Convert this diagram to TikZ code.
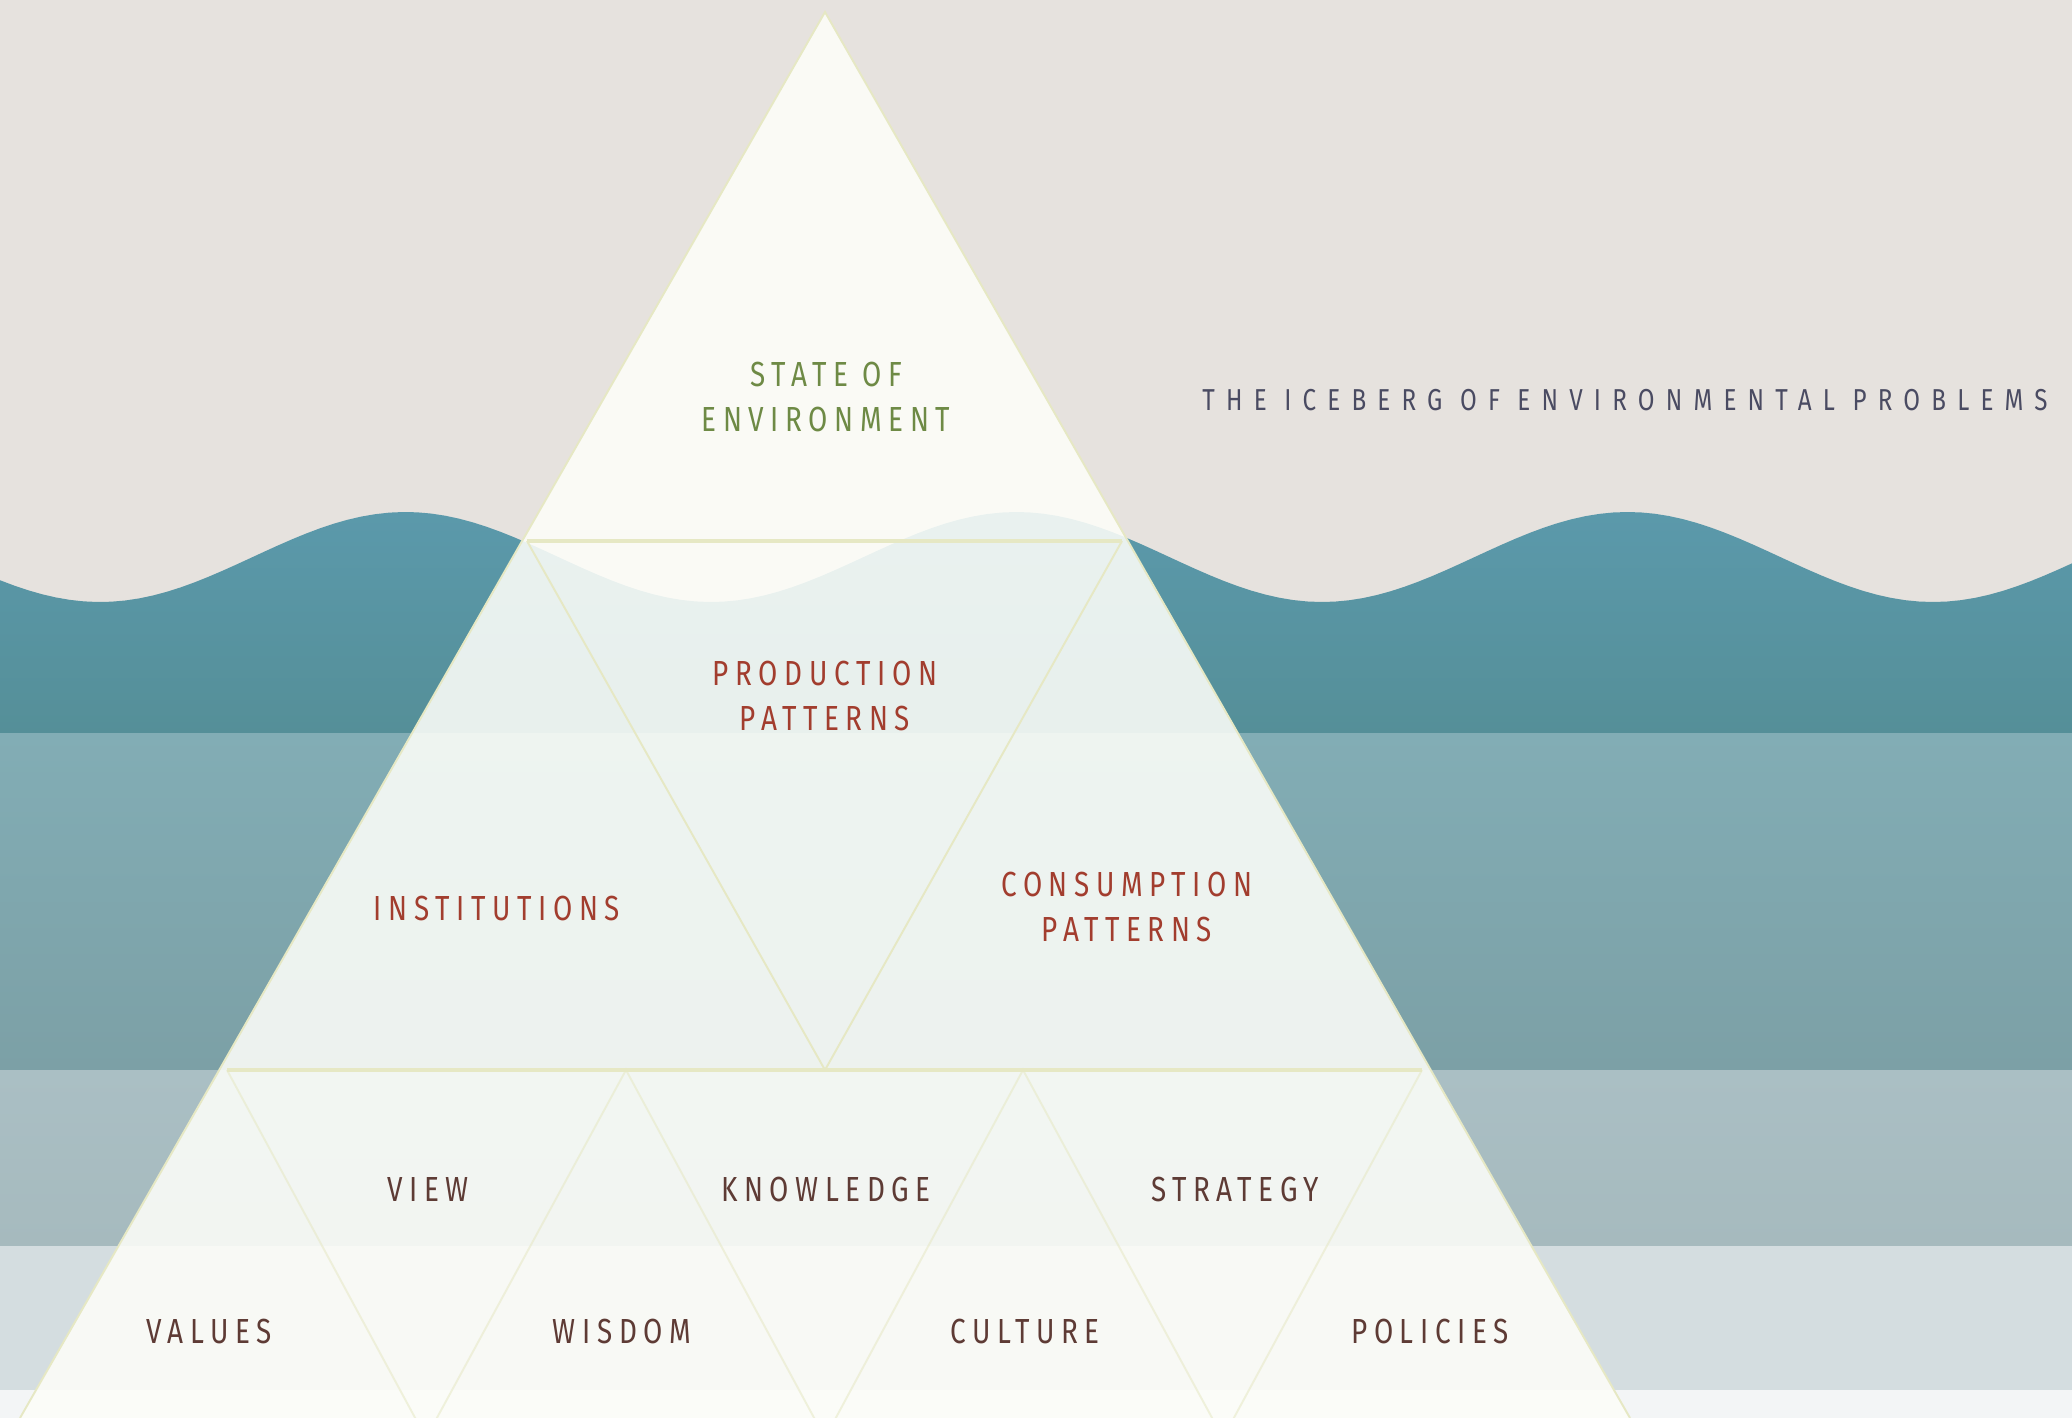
\documentclass[tikz,border=0pt]{standalone}
\usepackage{fontspec}
\usepackage{tikz}
\newfontfamily\icefont[LetterSpace=19,FakeStretch=0.8]{Fira Sans}
\newfontfamily\titlefont[LetterSpace=37,FakeStretch=0.8]{Fira Sans}
\definecolor{sky}{HTML}{E6E2DE}
\definecolor{seaA}{HTML}{5B99AB}
\definecolor{seaB}{HTML}{558F98}
\definecolor{seaC}{HTML}{82ADB5}
\definecolor{seaD}{HTML}{7CA0A6}
\definecolor{seaE}{HTML}{AABFC4}
\definecolor{seaF}{HTML}{A6BABE}
\definecolor{seaG}{HTML}{D4DDE0}
\definecolor{seaH}{HTML}{F3F5F6}
\definecolor{ice}{HTML}{FDFEF9}
\definecolor{iceline}{HTML}{E6E8C4}
\definecolor{moss}{HTML}{6E8A45}
\definecolor{rust}{HTML}{A23D2E}
\definecolor{umber}{HTML}{5E3B35}
\definecolor{slate}{HTML}{4A4B62}

\begin{document}
\begin{tikzpicture}[x=0.01cm,y=-0.01cm]
	\tikzset{word/.style={font=\icefont\fontsize{9.9}{12.7}\selectfont,align=center,inner sep=0pt}}
	\tikzset{edge/.style={draw=iceline,line width=0.55pt}}
	\tikzset{rowline/.style={draw=iceline,line width=0.9pt}}
	\useasboundingbox (0,0) rectangle (2072,1418);

	%% Sky and sea
	\fill[sky] (0,0) rectangle (2072,1418);
	\shade[top color=seaA,bottom color=seaB]
		plot[domain=0:2072,samples=150] (\x,{557+45*cos(0.5892*(\x-100))})
		-- (2072,733) -- (0,733) -- cycle;
	\shade[top color=seaC,bottom color=seaD] (0,733) rectangle (2072,1070);
	\shade[top color=seaE,bottom color=seaF] (0,1070) rectangle (2072,1246);
	\fill[seaG] (0,1246) rectangle (2072,1390);
	\fill[seaH] (0,1390) rectangle (2072,1418);

	%% Iceberg
	\coordinate (apex) at (825,12);
	\coordinate (bl) at (20,1418);
	\coordinate (br) at (1630,1418);
	\coordinate (l1) at (527,541);
	\coordinate (r1) at (1122,541);
	\coordinate (m2) at (825,1070);
	\coordinate (l2) at (227,1070);
	\coordinate (b1) at (626,1070);
	\coordinate (b2) at (1023,1070);
	\coordinate (r2) at (1422,1070);
	\coordinate (d1) at (426,1438);
	\coordinate (d2) at (825,1438);
	\coordinate (d3) at (1223,1438);
	\fill[ice,fill opacity=0.88] (apex) -- (bl) -- (br) -- cycle;
	\draw[edge] (bl) -- (apex) -- (br);
	\draw[rowline] (l1) -- (r1);
	\draw[edge] (l1) -- (m2) -- (r1);
	\draw[rowline] (l2) -- (r2);
	\draw[edge,draw opacity=0.55] (l2) -- (d1) -- (b1) -- (d2) -- (b2) -- (d3) -- (r2);

	%% Labels
	\node[word,text=moss] (state) at (826,397) {STATE OF\\ENVIRONMENT};
	\node[word,text=rust] (prod) at (825,696) {PRODUCTION\\PATTERNS};
	\node[word,text=rust] (inst) at (497,908) {INSTITUTIONS};
	\node[word,text=rust] (cons) at (1127,907) {CONSUMPTION\\PATTERNS};
	\node[word,text=umber] (view) at (428,1189) {VIEW};
	\node[word,text=umber] (know) at (826,1189) {KNOWLEDGE};
	\node[word,text=umber] (strat) at (1235,1189) {STRATEGY};
	\node[word,text=umber] (values) at (209,1331) {VALUES};
	\node[word,text=umber] (wisdom) at (622,1331) {WISDOM};
	\node[word,text=umber] (culture) at (1025,1331) {CULTURE};
	\node[word,text=umber] (policies) at (1430,1331) {POLICIES};
	\node[font=\titlefont\fontsize{8.6}{10}\selectfont,text=slate,inner sep=0pt] (title)
		at (1625,400) {THE ICEBERG OF ENVIRONMENTAL PROBLEMS};
\end{tikzpicture}
\end{document}
